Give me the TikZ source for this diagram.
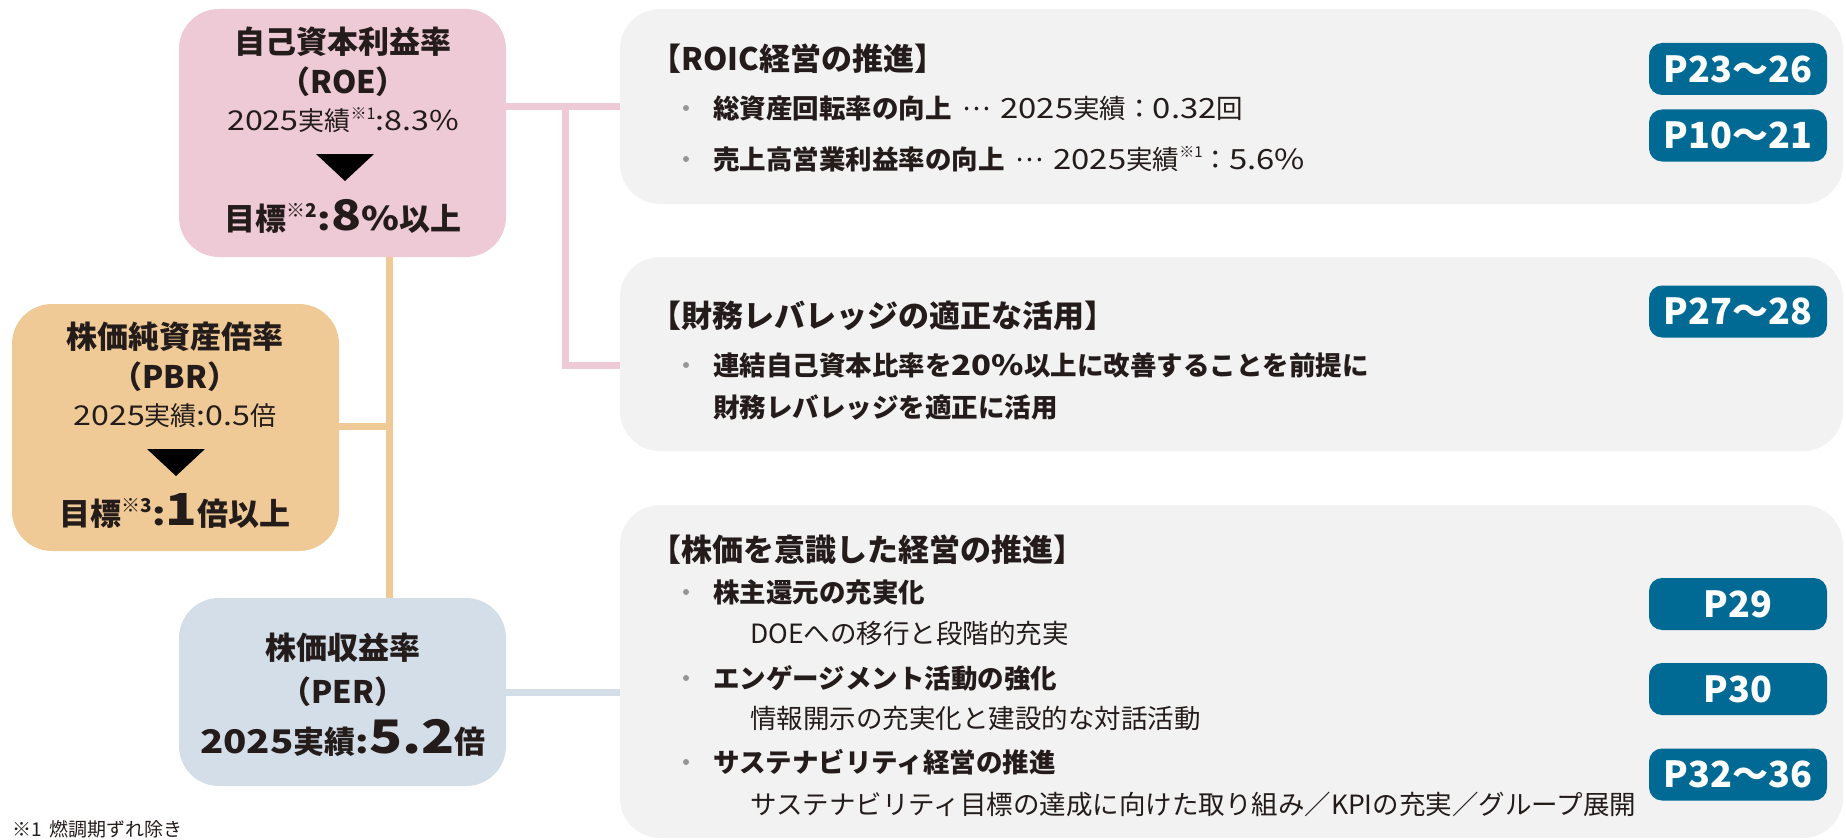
\documentclass[tikz,border=0pt]{standalone}
\usepackage{fontspec}
\setmainfont{Noto Sans CJK JP}
\newfontfamily\dig{Noto Sans CJK JP}[Scale=1.05, FakeStretch=1.18]
\usetikzlibrary{backgrounds}
\definecolor{roec}{RGB}{238,201,214}
\definecolor{pbrc}{RGB}{239,202,150}
\definecolor{perc}{RGB}{211,222,232}
\definecolor{boxc}{RGB}{242,242,242}
\definecolor{badgec}{RGB}{0,106,148}
\definecolor{ink}{RGB}{35,28,26}
\definecolor{bulc}{RGB}{150,150,150}
\newcommand\fs[1]{\fontsize{#1}{#1}\selectfont}
\newcommand\dg[1]{{\dig #1}}
\newcommand\supmark[2]{\raisebox{0.42em}{\fs{#1}#2}}
\newcommand\middots{\,\raisebox{0.3em}{…}\,}
\tikzset{
  lbox/.style={fill=#1, rounded corners=40pt, minimum width=327pt, inner sep=0pt},
  gbox/.style={fill=boxc, rounded corners=40pt, minimum width=1223pt, inner sep=0pt},
  badge/.style={fill=badgec, rounded corners=13pt, minimum width=178pt, minimum height=52pt,
    text=white, font=\fs{36}\bfseries, inner sep=0pt},
  ctxt/.style={inner sep=0pt, anchor=base, text=ink, font=\fs{#1}, yshift=-0.38*#1 pt},
  ltxt/.style={inner sep=0pt, anchor=base west, text=ink, font=\fs{#1}, yshift=-0.38*#1 pt},
  bul/.style={circle, fill=bulc, inner sep=0pt, minimum size=6pt},
  tri/.style={fill=black},
  pinkln/.style={draw=roec, line width=7pt},
  orln/.style={draw=pbrc, line width=7pt},
  perln/.style={draw=perc, line width=7pt},
}
\begin{document}
\begin{tikzpicture}[x=1pt,y=-1pt]
\useasboundingbox (0,0) rectangle (1846,840);
% left boxes
\node[lbox=roec, minimum height=248pt] (roe) at (342.5,133) {};
\node[lbox=pbrc, minimum height=247pt] (pbr) at (175.5,427.5) {};
\node[lbox=perc, minimum height=188pt] (per) at (342.5,692) {};
% right boxes
\node[gbox, minimum height=195pt] (box1) at (1231.5,106.5) {};
\node[gbox, minimum height=194pt] (box2) at (1231.5,354) {};
\node[gbox, minimum height=333pt] (box3) at (1231.5,671.5) {};
% connectors
\begin{scope}[on background layer]
\coordinate (jp) at (565,107);
\coordinate (jp2) at (565,365);
\draw[pinkln] (roe.east |- jp) -- (box1.west |- jp);
\draw[pinkln] (jp) -- (jp2) -- (box2.west |- jp2);
\coordinate (jo) at (389,426);
\draw[orln] (roe.south -| jo) -- (per.north -| jo);
\draw[orln] (pbr.east |- jo) -- (jo);
\draw[perln] (per.east) -- (box3.west |- per.east);
\end{scope}
% ROE texts
\node[ctxt=31] (roe1) at (343,42) {\bfseries 自己資本利益率};
\node[ctxt=31] (roe2) at (343,82) {\bfseries （ROE）};
\node[ctxt=26] (roe3) at (343,121) {\dg{2025}実績\supmark{16}{※1}\dg{:8.3\%}};
\fill[tri] (316,154) -- (374,154) -- (345,181) -- cycle;
\node[ctxt=31] (roe4) at (343,219) {\bfseries 目標\supmark{19}{※2}\dg{:}{\dig\fs{40}8}\dg{\%}以上};
% PBR texts
\node[ctxt=31] (pbr1) at (175,337) {\bfseries 株価純資産倍率};
\node[ctxt=31] (pbr2) at (175,377) {\bfseries （PBR）};
\node[ctxt=26] (pbr3) at (175,416) {\dg{2025}実績\dg{:0.5}倍};
\fill[tri] (147,449) -- (205,449) -- (176,476) -- cycle;
\node[ctxt=31] (pbr4) at (175,514) {\bfseries 目標\supmark{19}{※3}\dg{:}{\dig\fs{42}1}倍以上};
% PER texts
\node[ctxt=31] (per1) at (343,648) {\bfseries 株価収益率};
\node[ctxt=31] (per2) at (343,692) {\bfseries （PER）};
\node[ctxt=31] (per3) at (343,742) {\bfseries \dg{2025}実績\dg{:}{\dig\fs{44}5.2}倍};
% box 1
\node[ltxt=31] (h1) at (650,59) {\bfseries 【ROIC経営の推進】};
\node[bul] (b11) at (686,108) {};
\node[ltxt=26.5] (l11) at (713,108) {{\bfseries 総資産回転率の向上}\ \middots\ \dg{2025}実績：\dg{0.32}回};
\node[bul] (b12) at (686,159) {};
\node[ltxt=26.5] (l12) at (713,159) {{\bfseries 売上高営業利益率の向上}\ \middots\ \dg{2025}実績\supmark{15}{※1}：\dg{5.6\%}};
% box 2
\node[ltxt=31] (h2) at (650,316) {\bfseries 【財務レバレッジの適正な活用】};
\node[bul] (b21) at (686,365) {};
\node[ltxt=26.5] (l21) at (713,365) {\bfseries 連結自己資本比率を\dg{20\%}以上に改善することを前提に};
\node[ltxt=26.5] (l22) at (713,407) {\bfseries 財務レバレッジを適正に活用};
% box 3
\node[ltxt=31] (h3) at (650,550) {\bfseries 【株価を意識した経営の推進】};
\node[bul] (b31) at (686,592) {};
\node[ltxt=26.5] (l31) at (713,592) {\bfseries 株主還元の充実化};
\node[ltxt=26.5] (l32) at (750,633) {DOEへの移行と段階的充実};
\node[bul] (b33) at (686,678) {};
\node[ltxt=26.5] (l33) at (713,678) {\bfseries エンゲージメント活動の強化};
\node[ltxt=26.5] (l34) at (750,718) {情報開示の充実化と建設的な対話活動};
\node[bul] (b35) at (686,762) {};
\node[ltxt=26.5] (l35) at (713,762) {\bfseries サステナビリティ経営の推進};
\node[ltxt=26.5] (l36) at (750,804) {サステナビリティ目標の達成に向けた取り組み／KPIの充実／グループ展開};
% badges
\node[badge] (p1) at (1738,69) {P23～26};
\node[badge] (p2) at (1738,135.5) {P10～21};
\node[badge] (p3) at (1738,311.5) {P27～28};
\node[badge] (p4) at (1738,604) {P29};
\node[badge] (p5) at (1738,689) {P30};
\node[badge] (p6) at (1738,774.5) {P32～36};
% footnote
\node[ltxt=19] (fn) at (12,829) {※1\hspace{8pt}燃調期ずれ除き};
\end{tikzpicture}
\end{document}
